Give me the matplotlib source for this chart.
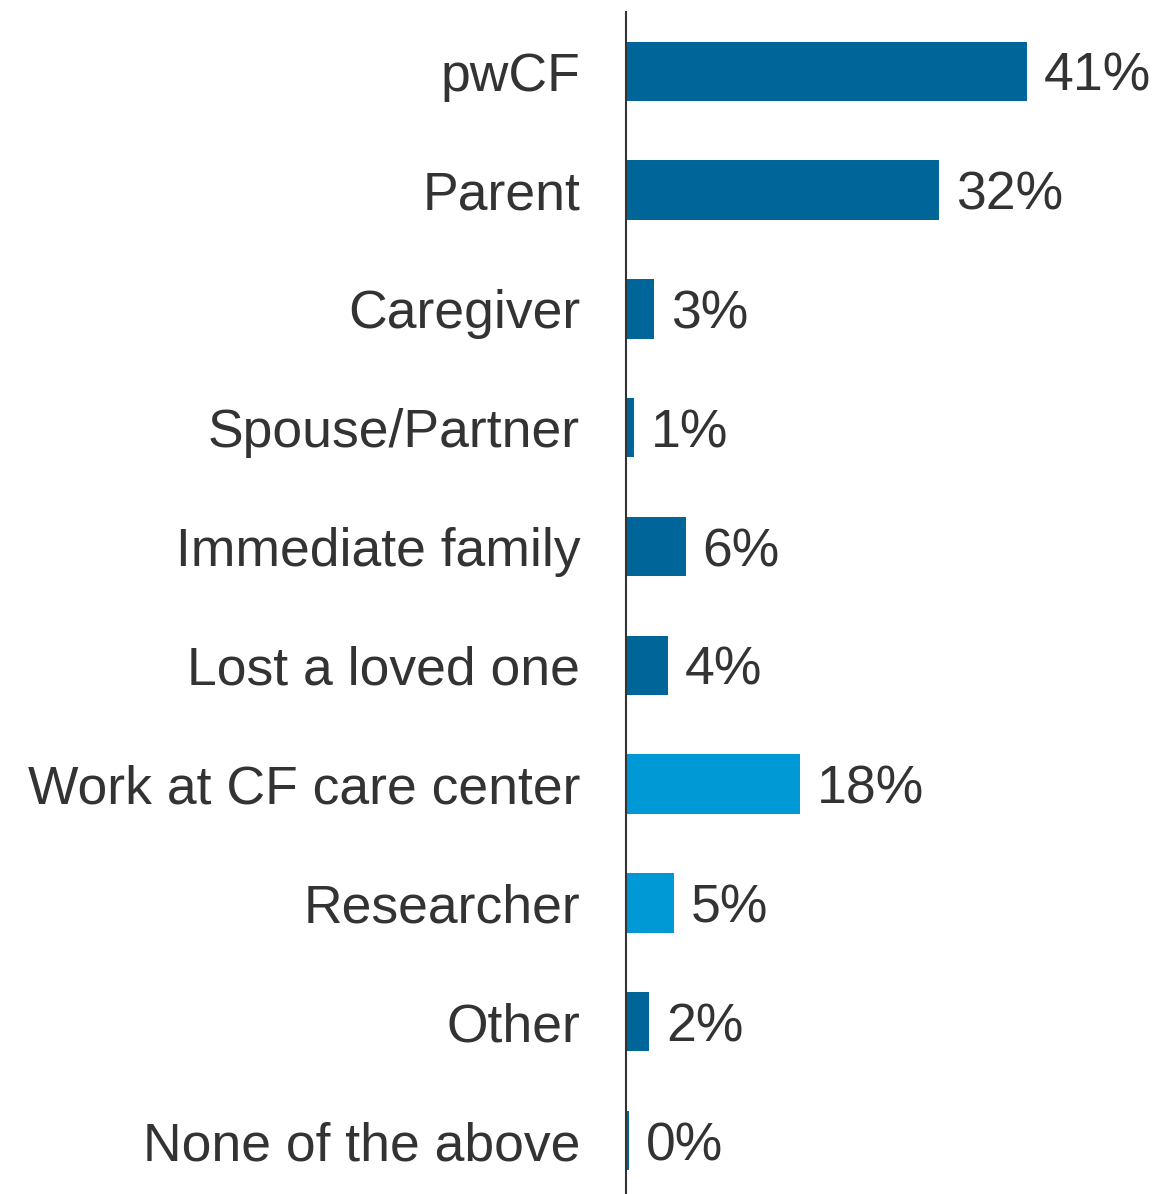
import matplotlib.pyplot as plt

categories = ["pwCF", "Parent", "Caregiver", "Spouse/Partner", "Immediate family",
              "Lost a loved one", "Work at CF care center", "Researcher", "Other",
              "None of the above"]
values = [41.0, 32.0, 2.9, 0.8, 6.1, 4.3, 17.8, 4.9, 2.4, 0.3]
value_labels = ["41%", "32%", "3%", "1%", "6%", "4%", "18%", "5%", "2%", "0%"]
groups = ["cf", "cf", "cf", "cf", "cf", "cf", "care", "care", "cf", "cf"]

colors = {"cf": "#006699", "care": "#0099D6"}
text_color = "#333333"

plt.rcParams['font.family'] = ['Liberation Sans', 'DejaVu Sans']

fig = plt.figure(figsize=(11.57, 11.94), dpi=100)
ax = fig.add_axes([626 / 1157, 0, 1 - 626 / 1157, 1 - 12 / 1194])

ypos = list(range(len(categories)))
ax.barh(ypos, values, height=0.5, color=[colors[g] for g in groups])

for y, v, lab in zip(ypos, values, value_labels):
    ax.annotate(lab, (v, y), xytext=(12, 0), textcoords='offset points',
                ha='left', va='center_baseline', fontsize=38.5, color=text_color)

ax.set_ylim(9.45, -0.5)
ax.set_xlim(0, 54.3)
ax.set_yticks(ypos)
ax.set_yticklabels(categories, fontsize=38.5, color=text_color)
ax.tick_params(axis='y', length=0, pad=33)
ax.set_xticks([])

for side in ['top', 'right', 'bottom']:
    ax.spines[side].set_visible(False)
ax.spines['left'].set_color(text_color)
ax.spines['left'].set_linewidth(1.5)

fig.savefig("out.png", dpi=100)
